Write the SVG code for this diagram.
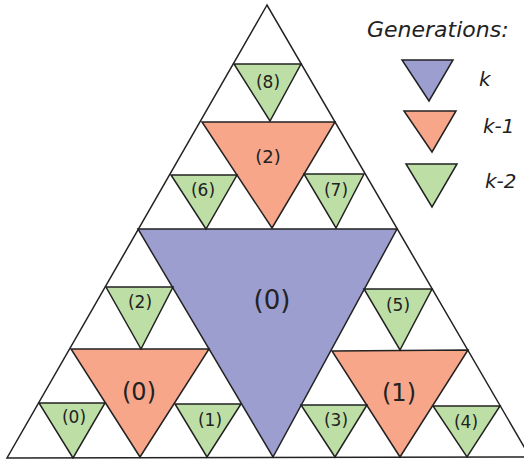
<svg xmlns="http://www.w3.org/2000/svg" width="524" height="459" viewBox="0 0 524 459">
<style>
.t{stroke:#222;stroke-width:1.5;stroke-linejoin:miter}
.b{fill:#9c9ed0}
.s{fill:#f8a68a}
.g{fill:#bddfa6}
.lbl{font-family:"DejaVu Sans",sans-serif;fill:#222;text-anchor:middle}
.sm{font-size:17px}
.leg{font-family:"DejaVu Sans",sans-serif;fill:#222;font-style:italic}
</style>
<rect width="524" height="459" fill="#fff"/>
<g id="outer">
<path class="t" fill="none" d="M267,5 L7,458 L530,457 Z"/>
</g>
<g id="connectors"></g>
<g id="k0"><path class="t b" d="M138,229 L397,229 L273,457 Z"/><text class="lbl" x="272" y="309" font-size="26">(0)</text></g>
<g id="k1-2"><path class="t s" d="M202,122 L335,122 L272,228 Z"/><text class="lbl" x="268" y="163" font-size="18">(2)</text></g>
<g id="k1-0"><path class="t s" d="M71,349 L209,349 L140,457 Z"/><text class="lbl" x="139" y="400" font-size="24">(0)</text></g>
<g id="k1-1"><path class="t s" d="M332,351 L468,350 L400,457 Z"/><text class="lbl" x="399" y="401" font-size="24">(1)</text></g>
<g id="k2-8"><path class="t g" d="M234,64 L301,64 L270,121 Z"/><text class="lbl sm" x="268" y="88">(8)</text></g>
<g id="k2-6"><path class="t g" d="M171,175 L237,175 L206,229 Z"/><text class="lbl sm" x="203" y="196">(6)</text></g>
<g id="k2-7"><path class="t g" d="M304,174 L364,174 L336,228 Z"/><text class="lbl sm" x="336" y="196">(7)</text></g>
<g id="k2-2"><path class="t g" d="M106,287 L173,287 L141,349 Z"/><text class="lbl sm" x="140" y="308">(2)</text></g>
<g id="k2-5"><path class="t g" d="M364,289 L432,289 L400,350 Z"/><text class="lbl sm" x="398" y="311">(5)</text></g>
<g id="k2-0"><path class="t g" d="M39,403 L105,403 L73,458 Z"/><text class="lbl sm" x="74" y="423">(0)</text></g>
<g id="k2-1"><path class="t g" d="M175,404 L241,404 L207,457 Z"/><text class="lbl sm" x="210" y="426">(1)</text></g>
<g id="k2-3"><path class="t g" d="M301,405 L367,405 L335,457 Z"/><text class="lbl sm" x="336" y="426">(3)</text></g>
<g id="k2-4"><path class="t g" d="M433,406 L500,406 L467,457 Z"/><text class="lbl sm" x="466" y="428">(4)</text></g>
<g id="legend">
<text class="leg" x="367" y="37" font-size="22">Generations:</text>
<g id="leg-k"><path class="t b" d="M402,60 L453,60 L429,101 Z"/><text class="leg" x="479" y="86" font-size="20">k</text></g>
<g id="leg-k1"><path class="t s" d="M404,111 L456,111 L432,152 Z"/><text class="leg" x="483" y="133" font-size="20">k-1</text></g>
<g id="leg-k2"><path class="t g" d="M406,164 L457,164 L432,207 Z"/><text class="leg" x="485" y="188" font-size="20">k-2</text></g>
</g>
</svg>
